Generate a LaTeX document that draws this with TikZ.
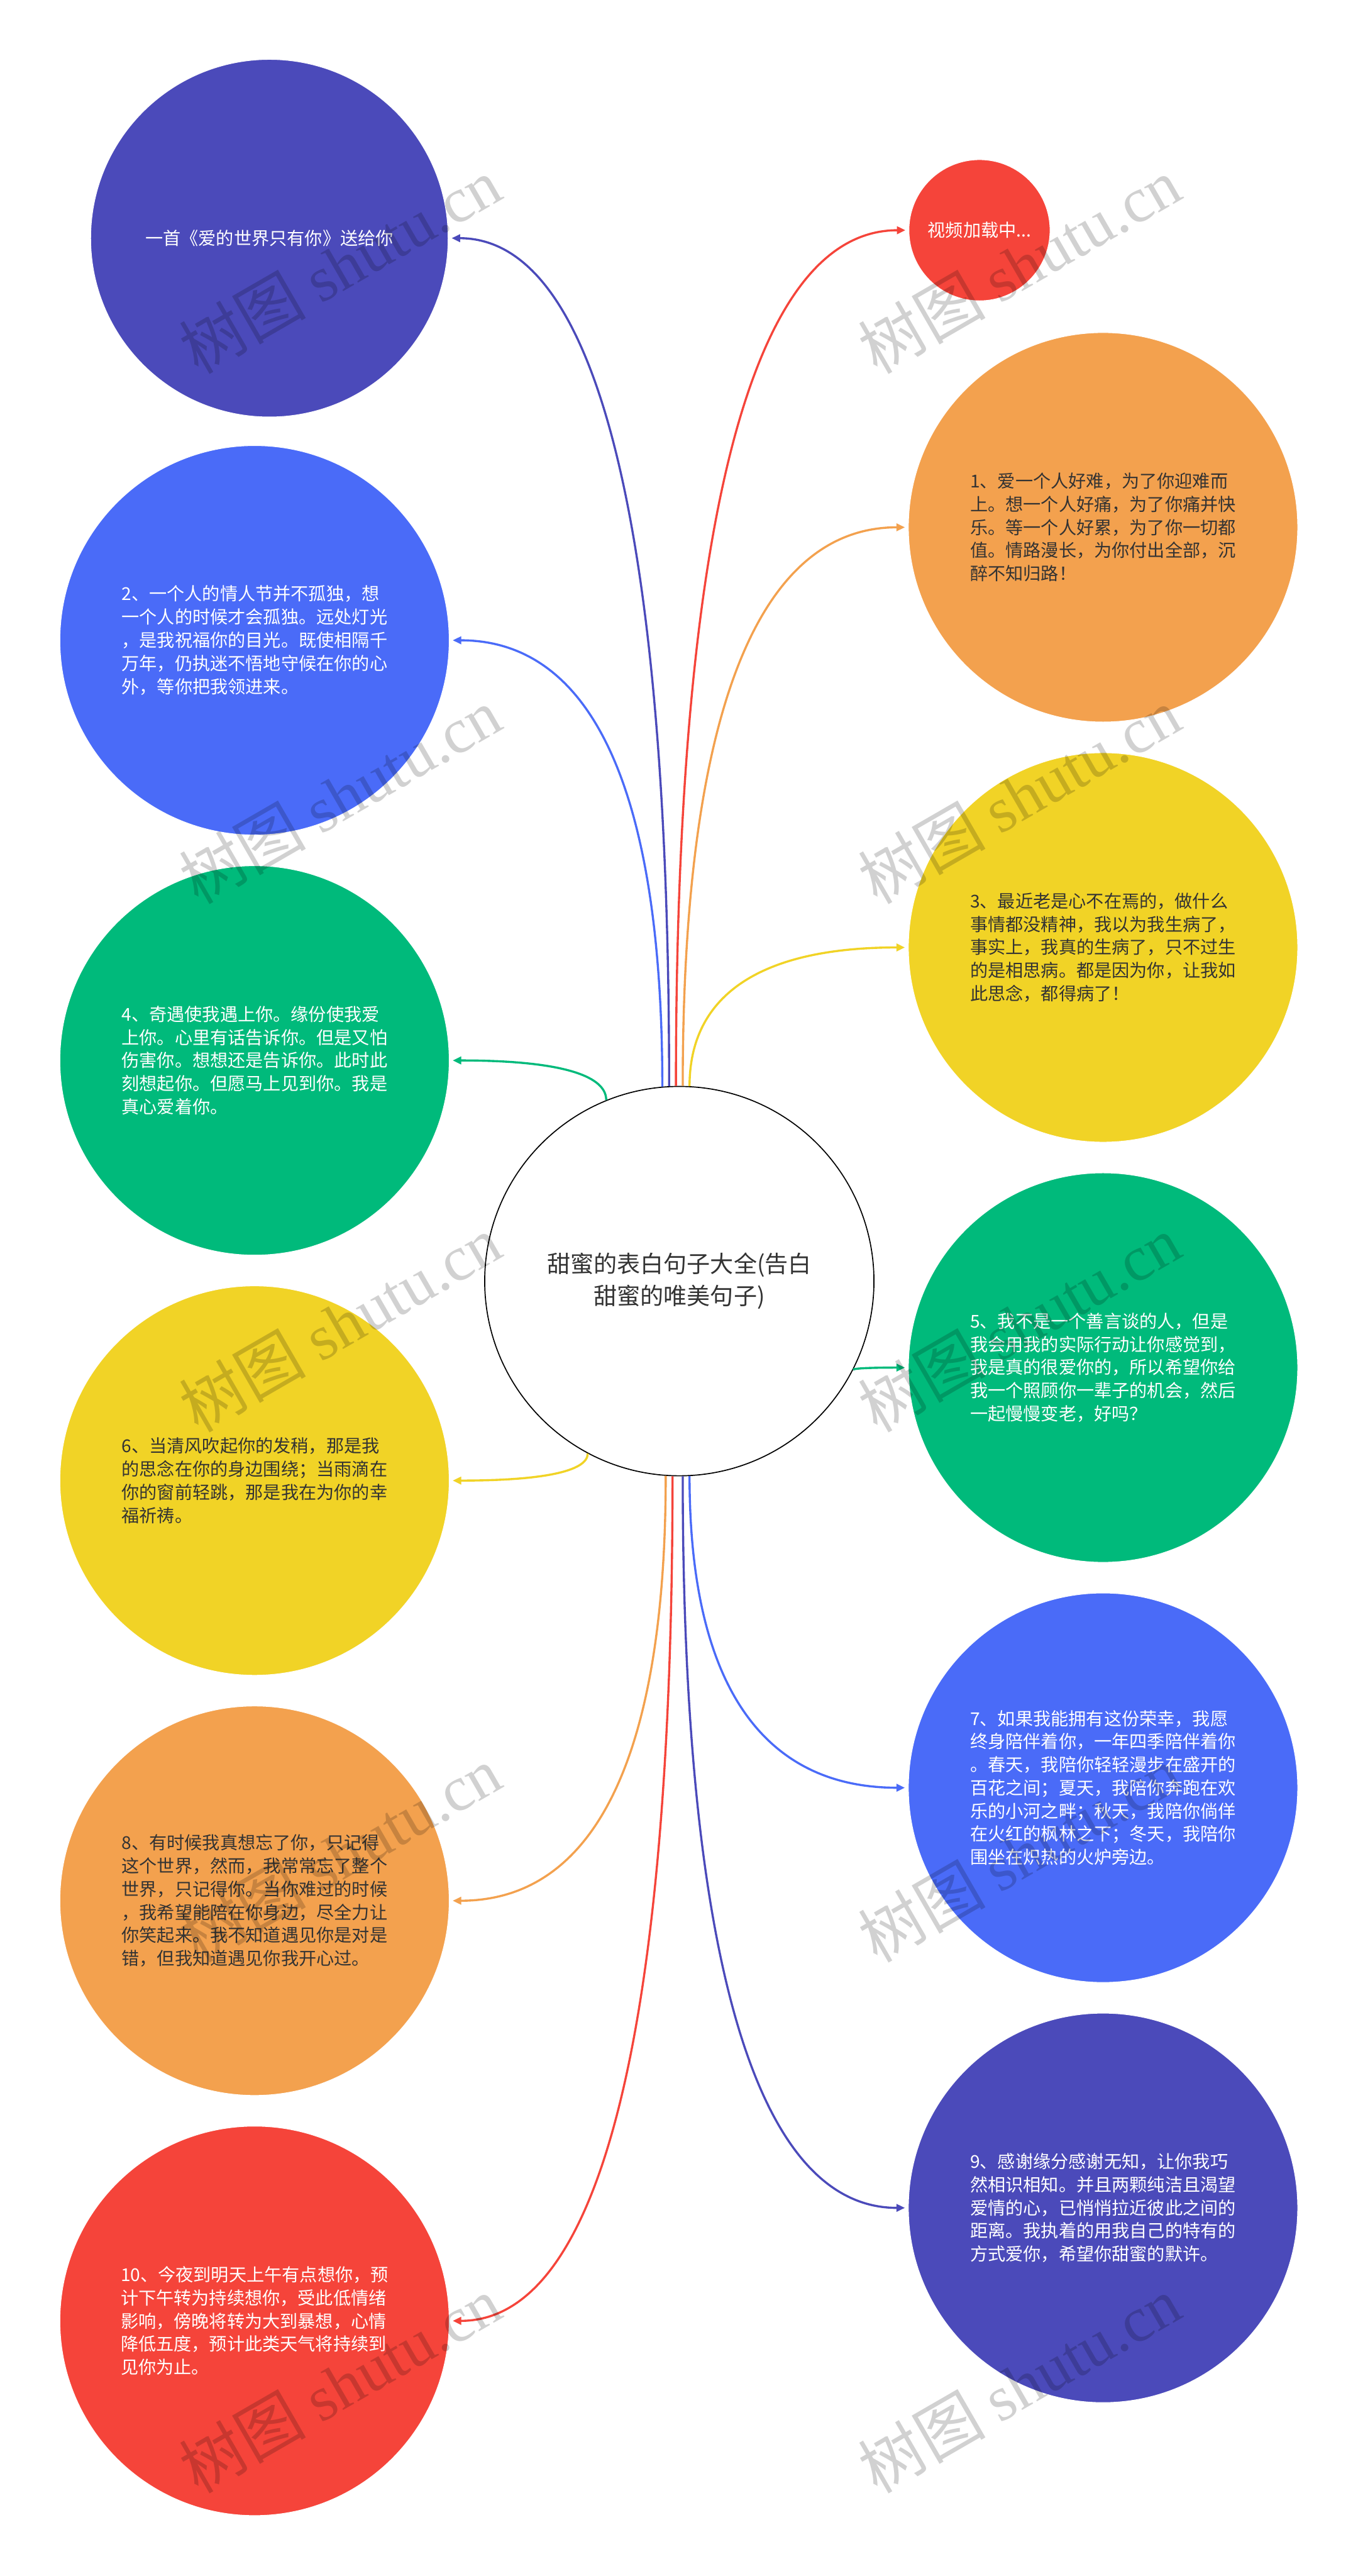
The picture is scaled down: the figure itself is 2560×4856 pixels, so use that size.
\documentclass[tikz,border=0pt]{standalone}
\usepackage{fontspec}
\setmainfont{Noto Sans CJK SC}
\newfontfamily\wmlatin{Liberation Serif}
\usetikzlibrary{calc,arrows.meta}
\definecolor{cIndigo}{HTML}{4B4ABA}
\definecolor{cBlue}{HTML}{4A6BF8}
\definecolor{cGreen}{HTML}{00BA7B}
\definecolor{cYellow}{HTML}{F1D326}
\definecolor{cOrange}{HTML}{F3A14E}
\definecolor{cRed}{HTML}{F5443A}
\definecolor{cText}{HTML}{333333}
\newcommand{\mmconn}[3]{\draw[link,#1] (#2) .. controls ($(#2)!0.667!(#2 |- #3)$) and ($(#3)!0.667!(#2 |- #3)$) .. (#3);}
\begin{document}
\begin{tikzpicture}[x=0.5pt,y=-0.5pt,
  bubble/.style={circle, inner sep=0pt, draw=white, line width=0.6pt, align=left,
    font=\fontsize{16.7pt}{21.8pt}\selectfont},
  big/.style={bubble, minimum size=367pt},
  light/.style={text=white},
  dark/.style={text=cText},
  rootnode/.style={circle, draw=black, line width=1pt, fill=white, minimum size=367pt,
    inner sep=0pt, align=center, text=cText, font=\fontsize{22pt}{30.5pt}\selectfont},
  link/.style={line width=2pt, -{Triangle[length=8pt,width=7pt]}, shorten >=3pt},
  wm/.style={text=black, text opacity=0.18, rotate=30, inner sep=0pt,
    font=\fontsize{60pt}{60pt}\selectfont}]
\useasboundingbox (0,0) rectangle (2560,4856);
\fill[white] (0,0) rectangle (2560,4856);

\node[rootnode] (root) at (1281,2415) {甜蜜的表白句子大全(告白\\甜蜜的唯美句子)};

\node[bubble, minimum size=337pt, fill=cIndigo, light] (n0) at (508,449) {一首《爱的世界只有你》送给你};
\node[bubble, minimum size=133pt, fill=cRed, light] (vid) at (1847,434) {视频加载中...};

\node[big, fill=cOrange, dark] (n1) at (2080,994) {1、爱一个人好难，为了你迎难而\\上。想一个人好痛，为了你痛并快\\乐。等一个人好累，为了你一切都\\值。情路漫长，为你付出全部，沉\\醉不知归路！};
\node[big, fill=cBlue, light] (n2) at (480,1207) {2、一个人的情人节并不孤独，想\\一个人的时候才会孤独。远处灯光\\，是我祝福你的目光。既使相隔千\\万年，仍执迷不悟地守候在你的心\\外，等你把我领进来。};
\node[big, fill=cYellow, dark] (n3) at (2080,1786) {3、最近老是心不在焉的，做什么\\事情都没精神，我以为我生病了，\\事实上，我真的生病了，只不过生\\的是相思病。都是因为你，让我如\\此思念，都得病了！};
\node[big, fill=cGreen, light] (n4) at (480,1999) {4、奇遇使我遇上你。缘份使我爱\\上你。心里有话告诉你。但是又怕\\伤害你。想想还是告诉你。此时此\\刻想起你。但愿马上见到你。我是\\真心爱着你。};
\node[big, fill=cGreen, light] (n5) at (2080,2578) {5、我不是一个善言谈的人，但是\\我会用我的实际行动让你感觉到，\\我是真的很爱你的，所以希望你给\\我一个照顾你一辈子的机会，然后\\一起慢慢变老，好吗？};
\node[big, fill=cYellow, dark] (n6) at (480,2791) {6、当清风吹起你的发稍，那是我\\的思念在你的身边围绕；当雨滴在\\你的窗前轻跳，那是我在为你的幸\\福祈祷。};
\node[big, fill=cBlue, light] (n7) at (2080,3370) {7、如果我能拥有这份荣幸，我愿\\终身陪伴着你，一年四季陪伴着你\\。春天，我陪你轻轻漫步在盛开的\\百花之间；夏天，我陪你奔跑在欢\\乐的小河之畔；秋天，我陪你倘佯\\在火红的枫林之下；冬天，我陪你\\围坐在炽热的火炉旁边。};
\node[big, fill=cOrange, dark] (n8) at (480,3583) {8、有时候我真想忘了你，只记得\\这个世界，然而，我常常忘了整个\\世界，只记得你。当你难过的时候\\，我希望能陪在你身边，尽全力让\\你笑起来。我不知道遇见你是对是\\错，但我知道遇见你我开心过。};
\node[big, fill=cIndigo, light] (n9) at (2080,4162) {9、感谢缘分感谢无知，让你我巧\\然相识相知。并且两颗纯洁且渴望\\爱情的心，已悄悄拉近彼此之间的\\距离。我执着的用我自己的特有的\\方式爱你，希望你甜蜜的默许。};
\node[big, fill=cRed, light] (n10) at (480,4375) {10、今夜到明天上午有点想你，预\\计下午转为持续想你，受此低情绪\\影响，傍晚将转为大到暴想，心情\\降低五度，预计此类天气将持续到\\见你为止。};

\mmconn{cBlue}{root.95}{n2.east}
\mmconn{cIndigo}{root.93}{n0.east}
\mmconn{cRed}{root.91}{vid.west}
\mmconn{cOrange}{root.89}{n1.west}
\mmconn{cYellow}{root.87}{n3.west}
\mmconn{cGreen}{root.112}{n4.east}
\mmconn{cGreen}{root.333}{n5.west}
\mmconn{cYellow}{root.242}{n6.east}
\mmconn{cOrange}{root.266}{n8.east}
\mmconn{cRed}{root.268}{n10.east}
\mmconn{cIndigo}{root.271}{n9.west}
\mmconn{cBlue}{root.273.5}{n7.west}

\foreach \wy [count=\i] in {500,1500,2495,3495,4495}{
  \node[wm] (wml\i) at (641,\wy) {树图 {\wmlatin shutu.cn}};
  \node[wm] (wmr\i) at (1922,\wy) {树图 {\wmlatin shutu.cn}};
}
\end{tikzpicture}
\end{document}
